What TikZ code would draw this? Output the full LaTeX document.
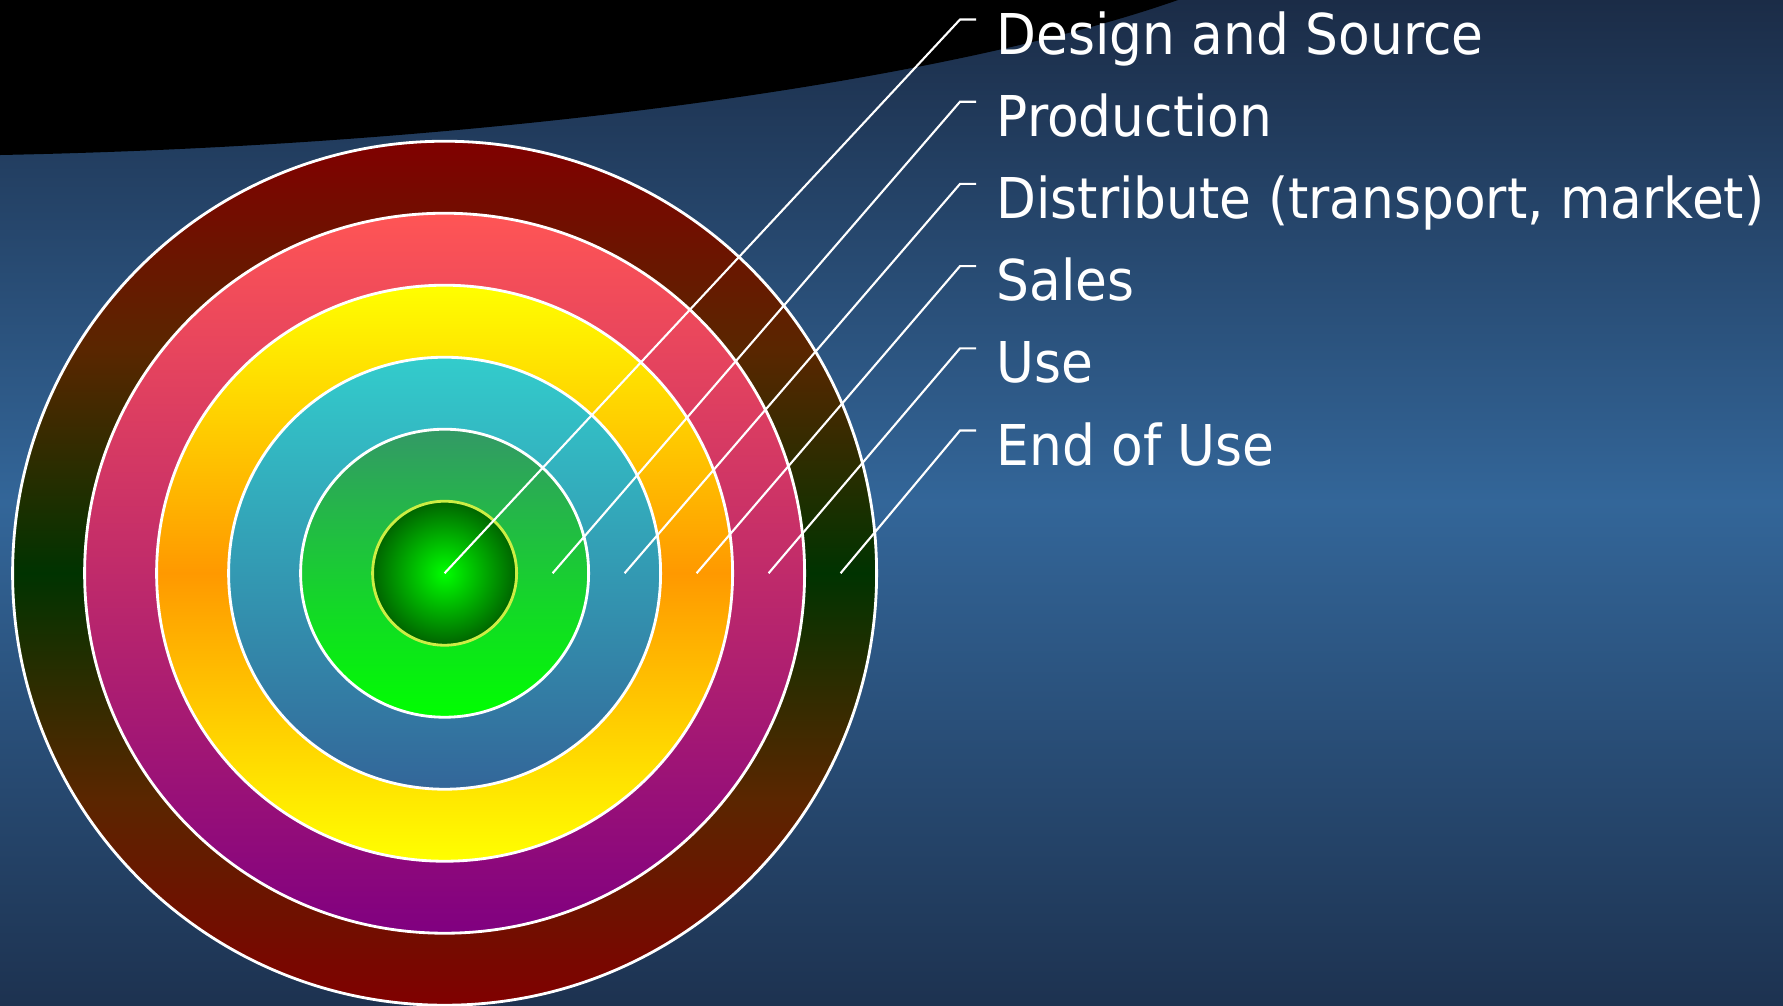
\documentclass[tikz,border=0pt]{standalone}
\usepackage{fontspec}
\setmainfont[FakeStretch=0.92]{DejaVu Sans}
\usepackage{tikz}

\definecolor{bgtop}{HTML}{1B2C47}
\definecolor{bgmid}{HTML}{336699}
\definecolor{bgbot}{HTML}{1D3250}
\definecolor{maroon}{HTML}{800000}
\definecolor{rust}{HTML}{5A2600}
\definecolor{moss}{HTML}{003300}
\definecolor{salmon}{HTML}{FF5555}
\definecolor{plum}{HTML}{800080}
\definecolor{amber}{HTML}{FF9900}
\definecolor{teal}{HTML}{33CCCC}
\definecolor{steel}{HTML}{336699}
\definecolor{sea}{HTML}{339966}
\definecolor{lime}{HTML}{00FF00}
\definecolor{forest}{HTML}{006400}
\definecolor{rim}{HTML}{CCEE44}

% outer band: maroon at top and bottom, dark green across the middle
\pgfdeclareverticalshading{outerband}{100bp}{color(0bp)=(maroon); color(25bp)=(maroon);
    color(37bp)=(rust); color(50bp)=(moss); color(63bp)=(rust); color(75bp)=(maroon); color(100bp)=(maroon)}

\begin{document}
\begin{tikzpicture}[x=0.01cm, y=-0.01cm,
        ring/.style={draw=white, line width=0.8pt},
        leader/.style={white, line width=0.6pt},
        lbl/.style={anchor=base west, inner sep=0pt, text=white, font=\fontsize{16}{18}\selectfont}]
            \useasboundingbox (0,0) rectangle (1783,1005);
            \shade[top color=bgtop, bottom color=bgbot, middle color=bgmid] (0,0) rectangle (1783,1005);
            \fill[black] (0,0) -- (1178,0) .. controls (950,80) and (500,145) .. (0,155) -- cycle;
            % target rings, outside in
            \coordinate (c) at (444.6,573.2);
            \draw[ring, shading=outerband] (c) circle (432);
            \draw[ring, top color=salmon, bottom color=plum] (c) circle (360);
            \draw[ring, top color=yellow, bottom color=yellow, middle color=amber] (c) circle (288);
            \draw[ring, top color=teal, bottom color=steel] (c) circle (216);
            \draw[ring, top color=sea, bottom color=lime] (c) circle (144);
            \draw[draw=rim, line width=0.8pt, inner color=lime, outer color=forest] (c) circle (72);
            % labels
            \node[lbl] (design) at (996,54) {Design and Source};
            \node[lbl] (prod) at (996,136.2) {Production};
            \node[lbl] (distr) at (996,218.4) {Distribute (transport, market)};
            \node[lbl] (sales) at (996,300.6) {Sales};
            \node[lbl] (use) at (996,382.8) {Use};
            \node[lbl] (eou) at (996,465) {End of Use};
            % leader lines
            \coordinate (m2) at (552.6,573.2);
            \coordinate (m3) at (624.6,573.2);
            \coordinate (m4) at (696.6,573.2);
            \coordinate (m5) at (768.6,573.2);
            \coordinate (m6) at (840.6,573.2);
            \coordinate (k1) at (960,19.5);  \coordinate (e1) at (976,19.5);
            \coordinate (k2) at (960,101.7); \coordinate (e2) at (976,101.7);
            \coordinate (k3) at (960,183.9); \coordinate (e3) at (976,183.9);
            \coordinate (k4) at (960,266.1); \coordinate (e4) at (976,266.1);
            \coordinate (k5) at (960,348.3); \coordinate (e5) at (976,348.3);
            \coordinate (k6) at (960,430.5); \coordinate (e6) at (976,430.5);
            \draw[leader] (c) -- (k1) -- (e1);
            \draw[leader] (m2) -- (k2) -- (e2);
            \draw[leader] (m3) -- (k3) -- (e3);
            \draw[leader] (m4) -- (k4) -- (e4);
            \draw[leader] (m5) -- (k5) -- (e5);
            \draw[leader] (m6) -- (k6) -- (e6);
        \end{tikzpicture}
\end{document}
